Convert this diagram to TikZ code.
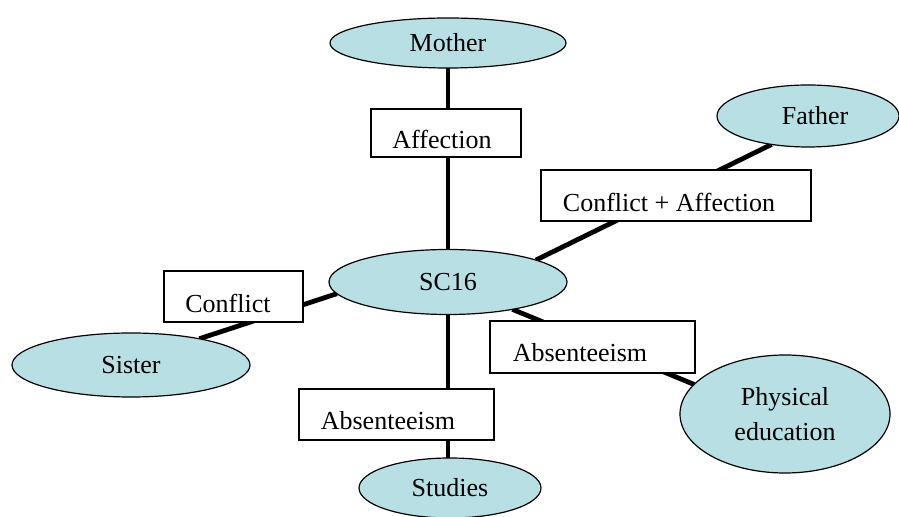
\documentclass[tikz,border=0pt]{standalone}
\usepackage{fontspec}
\setmainfont{Liberation Serif}
\usetikzlibrary{shapes.geometric,backgrounds,positioning}
\definecolor{bubble}{RGB}{184,223,228}
\tikzset{
  px/.style={x=0.5pt,y=-0.5pt},
  person/.style={ellipse,draw=black,line width=0.6pt,fill=bubble,inner sep=0pt,outer sep=0pt,
    font=\fontsize{13}{15.5}\selectfont,align=center},
  relbox/.style={rectangle,draw=black,line width=0.7pt,fill=white,inner sep=0pt,outer sep=0pt},
  reltext/.style={font=\fontsize{13}{15.5}\selectfont,inner sep=0pt},
  tie/.style={line width=2.4pt,black}
}
\begin{document}
\begin{tikzpicture}[px]
\useasboundingbox (0,0) rectangle (899,517);

% people and topics
\node[person,minimum width=118pt,minimum height=25pt] (mother) at (448,43) {Mother};
\node[person,minimum width=91pt,minimum height=31pt] (father) at (808,116) {\hspace*{7pt}Father};
\node[person,minimum width=119pt,minimum height=32.5pt] (sc) at (448,282) {SC16};
\node[person,minimum width=119pt,minimum height=32pt] (sister) at (131,365) {Sister};
\node[person,minimum width=91pt,minimum height=30pt] (studies) at (450,488) {Studies};
\node[person,minimum width=105pt,minimum height=59pt] (pe) at (785,414) {Physical\\[2pt]education};

% relation labels
\node[relbox,minimum width=75pt,minimum height=24pt] (bmother) at (446,133) {};
\node[reltext] (tmother) at (442,139) {Affection};
\node[relbox,minimum width=135pt,minimum height=25.5pt] (bfather) at (676,195.5) {};
\node[reltext] (tfather) at (669,202) {Conflict + Affection};
\node[relbox,minimum width=69.5pt,minimum height=25.5pt] (bsister) at (233.5,296.5) {};
\node[reltext] (tsister) at (228,303) {Conflict};
\node[relbox,minimum width=102.5pt,minimum height=26pt] (bpe) at (592.5,347) {};
\node[reltext] (tpe) at (580,353) {Absenteeism};
\node[relbox,minimum width=97.5pt,minimum height=25.5pt] (bstudies) at (396.5,414.5) {};
\node[reltext] (tstudies) at (388,421) {Absenteeism};

% connectors behind everything
\begin{scope}[on background layer]
\draw[tie] (mother.south) -- (sc.north);
\draw[tie] (sc.south) -- (sc.south |- studies.north);
\draw[tie] (sc.14) -- (father.218);
\draw[tie] (sc.186) -- (sister.21);
\draw[tie] (sc.337) -- (pe.162);
\end{scope}
\end{tikzpicture}
\end{document}
